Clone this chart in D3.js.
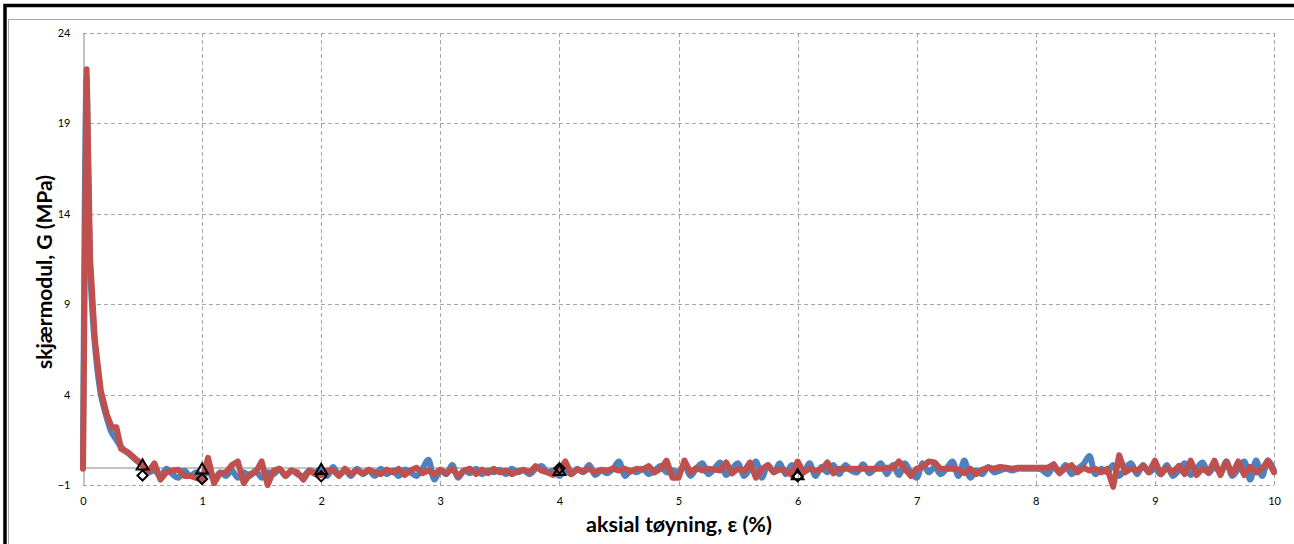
<!DOCTYPE html>
<html><head><meta charset="utf-8">
<script src="https://cdn.jsdelivr.net/npm/d3@7"></script>
<style>
html,body{margin:0;padding:0;background:#fff;overflow:hidden;}
svg{display:block;}
</style></head>
<body>
<svg id="c" width="1294" height="544"></svg>
<script>
// ---- data ----
const xTicks = [0,1,2,3,4,5,6,7,8,9,10];
const yTicks = [-1,4,9,14,19,24];
const xTitle = "aksial tøyning, ε (%)";
const yTitle = "skjærmodul, G (MPa)";

// initial peak and decay
const startStrain = [0, 0.03, 0.06, 0.10, 0.15, 0.20, 0.24, 0.28, 0.32, 0.38, 0.45];
const blueStart   = [0, 21.5, 11.0, 6.7, 4.0, 2.7, 1.9, 1.5, 1.1, 0.75, 0.35];
const redStart    = [-0.1, 22.0, 11.5, 7.0, 4.2, 2.9, 2.2, 2.2, 1.0, 0.8, 0.4];

// noisy tail, strain 0.50 ... 10.00 every 0.05
const tailStrain = [
0.50,0.55,0.60,0.65,0.70,0.75,0.80,0.85,0.90,0.95,
1.00,1.05,1.10,1.15,1.20,1.25,1.30,1.35,1.40,1.45,
1.50,1.55,1.60,1.65,1.70,1.75,1.80,1.85,1.90,1.95,
2.00,2.05,2.10,2.15,2.20,2.25,2.30,2.35,2.40,2.45,
2.50,2.55,2.60,2.65,2.70,2.75,2.80,2.85,2.90,2.95,
3.00,3.05,3.10,3.15,3.20,3.25,3.30,3.35,3.40,3.45,
3.50,3.55,3.60,3.65,3.70,3.75,3.80,3.85,3.90,3.95,
4.00,4.05,4.10,4.15,4.20,4.25,4.30,4.35,4.40,4.45,
4.50,4.55,4.60,4.65,4.70,4.75,4.80,4.85,4.90,4.95,
5.00,5.05,5.10,5.15,5.20,5.25,5.30,5.35,5.40,5.45,
5.50,5.55,5.60,5.65,5.70,5.75,5.80,5.85,5.90,5.95,
6.00,6.05,6.10,6.15,6.20,6.25,6.30,6.35,6.40,6.45,
6.50,6.55,6.60,6.65,6.70,6.75,6.80,6.85,6.90,6.95,
7.00,7.05,7.10,7.15,7.20,7.25,7.30,7.35,7.40,7.45,
7.50,7.55,7.60,7.65,7.70,7.75,7.80,7.85,7.90,7.95,
8.00,8.05,8.10,8.15,8.20,8.25,8.30,8.35,8.40,8.45,
8.50,8.55,8.60,8.65,8.70,8.75,8.80,8.85,8.90,8.95,
9.00,9.05,9.10,9.15,9.20,9.25,9.30,9.35,9.40,9.45,
9.50,9.55,9.60,9.65,9.70,9.75,9.80,9.85,9.90,9.95,
10.00];

const blueTail = [
0.1,-0.3,-0.2,-0.5,-0.1,-0.4,-0.6,-0.2,-0.5,-0.3,
-0.6,-0.2,-0.7,-0.3,-0.5,-0.2,-0.6,-0.3,-0.5,-0.2,
-0.6,-0.3,-0.4,-0.1,-0.5,-0.2,-0.4,-0.5,-0.2,-0.3,
-0.1,-0.5,0.0,-0.45,-0.2,-0.5,-0.1,-0.4,-0.2,-0.5,
-0.1,-0.4,-0.2,-0.5,-0.15,-0.3,-0.5,-0.1,0.4,-0.7,
-0.2,-0.4,0.1,-0.6,-0.2,-0.35,-0.1,-0.4,-0.2,-0.3,
-0.15,-0.4,-0.1,-0.3,-0.2,-0.4,-0.1,0.05,-0.3,-0.2,
-0.5,-0.2,-0.4,-0.1,-0.3,0.1,-0.45,-0.2,-0.35,-0.1,
0.3,-0.5,-0.2,-0.3,-0.1,-0.4,-0.2,0.05,-0.3,-0.2,
-0.3,0.1,-0.5,-0.1,0.2,-0.4,-0.1,0.25,-0.45,-0.1,
0.2,-0.5,-0.1,0.3,-0.6,0.1,-0.3,0.2,-0.4,0.1,
-0.2,-0.3,0.2,-0.5,0.0,-0.3,0.1,-0.4,0.1,-0.2,
-0.3,0.15,-0.35,-0.1,0.2,-0.4,0.1,-0.45,0.2,-0.3,
-0.6,0.2,-0.3,0.0,-0.4,-0.1,0.3,-0.5,0.35,-0.6,
-0.2,-0.4,0.0,-0.3,-0.2,-0.1,-0.2,-0.1,-0.1,-0.1,
-0.1,-0.15,-0.4,0.0,-0.3,0.1,-0.4,-0.1,0.15,0.6,
-0.4,-0.1,-0.3,0.1,-0.5,-0.1,0.2,-0.4,0.1,-0.3,
-0.1,-0.4,0.1,-0.5,-0.2,0.2,-0.45,-0.1,0.25,-0.35,
0.0,-0.3,0.3,-0.5,-0.1,0.3,-0.7,0.35,-0.5,0.35,
-0.2];

const redTail = [
0.1,-0.25,0.2,-0.7,-0.3,-0.2,-0.15,-0.5,-0.5,-0.6,
-0.7,0.5,-0.9,-0.35,-0.3,0.1,0.3,-0.9,-0.4,-0.3,
0.3,-1.0,-0.2,-0.1,-0.5,-0.2,-0.3,-0.7,-0.2,-0.4,
-0.45,-0.2,-0.2,-0.5,-0.1,-0.4,-0.2,-0.35,-0.15,-0.3,
-0.4,-0.15,-0.3,-0.1,-0.45,-0.2,-0.05,-0.35,-0.2,-0.4,
-0.15,-0.35,-0.1,-0.5,-0.2,-0.1,-0.4,-0.15,-0.35,-0.1,
-0.3,-0.2,-0.4,-0.25,-0.15,-0.3,0.05,-0.2,-0.3,-0.45,
-0.15,0.3,-0.4,-0.15,-0.25,-0.1,-0.3,-0.15,-0.2,-0.1,
-0.2,-0.1,-0.25,-0.1,-0.15,0.05,-0.3,-0.1,0.35,-0.6,
-0.6,0.35,-0.3,-0.05,-0.2,-0.1,-0.15,-0.2,0.25,-0.35,
-0.1,-0.25,0.25,-0.6,-0.1,0.1,-0.3,-0.15,-0.2,-0.45,
0.3,-0.3,-0.1,-0.2,-0.15,0.25,-0.35,-0.1,-0.1,-0.1,
-0.1,-0.1,-0.1,-0.1,-0.1,-0.05,-0.05,0.3,-0.1,-0.5,
-0.1,0.0,0.3,0.25,-0.1,-0.1,-0.1,-0.15,-0.35,-0.1,
-0.4,-0.15,-0.05,-0.1,0.0,-0.05,-0.1,-0.05,-0.05,-0.05,
-0.05,-0.05,-0.05,0.15,-0.35,-0.05,0.1,-0.3,-0.05,-0.2,
-0.1,-0.3,-0.1,-1.1,0.65,-0.3,-0.1,-0.2,0.05,-0.3,
0.35,-0.4,-0.05,-0.3,0.05,-0.4,0.35,-0.45,-0.1,-0.3,
0.35,-0.45,0.3,-0.4,0.3,-0.45,0.0,-0.3,-0.1,0.35,
-0.3];

// marker series
const markStrain    = [0.5, 1, 2, 4, 6];
const triangleVals  = [0.05, -0.17, -0.2, -0.26, -0.5];
const diamondVals   = [-0.47, -0.67, -0.52, -0.08, -0.52];

// ---- drawing ----
const svg = d3.select("#c");
const W = 1294, H = 544;
const m = {left: 83, right: 1274, top: 33, bottom: 485};

// frames
svg.append("rect").attr("x",8.5).attr("y",19.5).attr("width",W+20).attr("height",H+20)
  .attr("fill","none").attr("stroke","#a6a6a6").attr("stroke-width",1);
svg.append("rect").attr("x",5).attr("y",5.5).attr("width",W+20).attr("height",H+20)
  .attr("fill","none").attr("stroke","#000").attr("stroke-width",3.5);

const x = d3.scaleLinear().domain([0,10]).range([m.left, m.right]);
const y = d3.scaleLinear().domain([-1,24]).range([m.bottom, m.top]);

const font = "Lato, 'Open Sans', sans-serif";

// grid
const grid = svg.append("g");
grid.selectAll("line.v").data(xTicks.filter(d=>d>0)).join("line")
  .attr("x1",d=>Math.round(x(d))+0.5).attr("x2",d=>Math.round(x(d))+0.5)
  .attr("y1",m.top).attr("y2",m.bottom)
  .attr("stroke","#a6a6a6").attr("stroke-dasharray","4,3");
grid.selectAll("line.h").data(yTicks).join("line")
  .attr("x1",m.left).attr("x2",m.right)
  .attr("y1",d=>Math.round(y(d))+0.5).attr("y2",d=>Math.round(y(d))+0.5)
  .attr("stroke","#a6a6a6").attr("stroke-dasharray","4,3");

// axes via d3
const xAxis = d3.axisBottom(x).tickValues(xTicks).tickSize(0).tickPadding(12);
const gx = svg.append("g").attr("transform",`translate(0,${Math.round(y(0))+0.5})`).call(xAxis);
gx.select(".domain").attr("stroke","#868686");
gx.selectAll("text").attr("font-family",font).attr("font-size",11).attr("fill","#000")
  .attr("transform",`translate(0,${Math.round(y(-1)) - Math.round(y(0))})`);

const yAxis = d3.axisLeft(y).tickValues(yTicks).tickSize(0).tickPadding(13);
const gy = svg.append("g").attr("transform",`translate(${Math.round(x(0))+0.5},0)`).call(yAxis);
gy.select(".domain").attr("stroke","#868686");
gy.selectAll("text").attr("font-family",font).attr("font-size",11).attr("fill","#000");

// lines
const blue = startStrain.map((s,i)=>[s, blueStart[i]]).concat(tailStrain.map((s,i)=>[s, blueTail[i]]));
const red  = startStrain.map((s,i)=>[s, redStart[i]]).concat(tailStrain.map((s,i)=>[s, redTail[i]]));

const lineB = d3.line().x(d=>x(d[0])).y(d=>y(d[1])).curve(d3.curveCatmullRom.alpha(0.5));
const lineR = d3.line().x(d=>x(d[0])).y(d=>y(d[1]));

svg.append("path").attr("d",lineB(blue)).attr("fill","none")
  .attr("stroke","#4f81bd").attr("stroke-width",6).attr("stroke-linejoin","round").attr("stroke-linecap","round");
svg.append("path").attr("d",lineR(red)).attr("fill","none")
  .attr("stroke","#c0504d").attr("stroke-width",6).attr("stroke-linejoin","round").attr("stroke-linecap","round");

// markers
const tri = d3.symbol().type(d3.symbolTriangle).size(60);
const sq = d3.symbol().type(d3.symbolSquare).size(52);
svg.append("g").selectAll("path").data(markStrain).join("path")
  .attr("d",tri).attr("transform",(d,i)=>`translate(${x(d)},${y(triangleVals[i])})`)
  .attr("fill","none").attr("stroke","#000").attr("stroke-width",2);
svg.append("g").selectAll("path").data(markStrain).join("path")
  .attr("d",sq).attr("transform",(d,i)=>`translate(${x(d)},${y(diamondVals[i])}) rotate(45)`)
  .attr("fill","none").attr("stroke","#000").attr("stroke-width",2);

// titles
svg.append("text").attr("x",679).attr("y",532)
  .attr("text-anchor","middle").attr("font-family",font).attr("font-weight","bold")
  .attr("font-size",21.5).text(xTitle);
svg.append("text").attr("transform",`translate(52,${272}) rotate(-90)`)
  .attr("text-anchor","middle").attr("font-family",font).attr("font-weight","bold")
  .attr("font-size",21).text(yTitle);
</script>
</body></html>
